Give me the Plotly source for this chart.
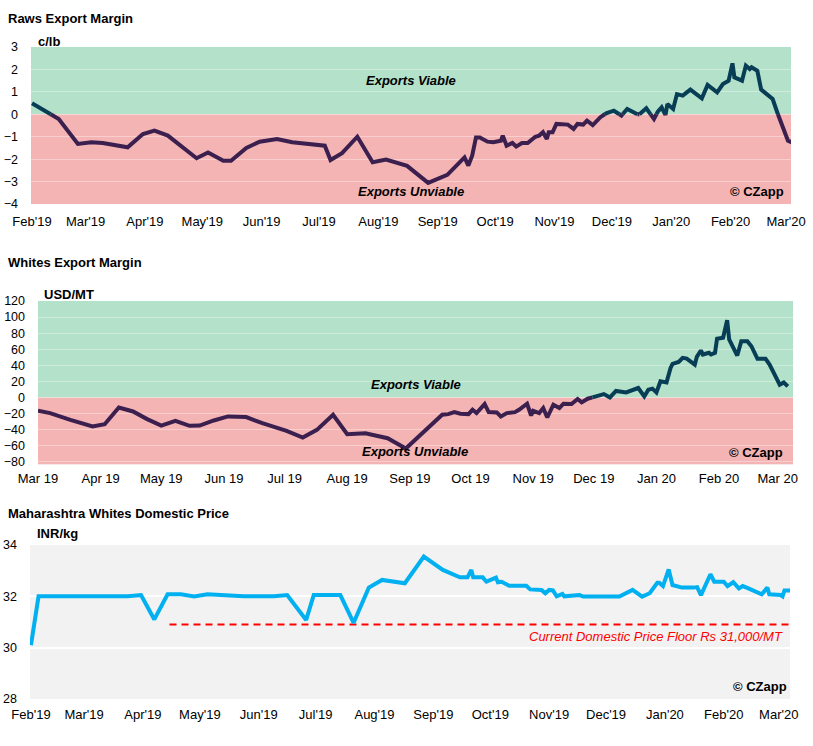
import pandas as pd
import plotly.graph_objects as go

# ---------------- DATA ----------------
raws_base = "2019-02-01"
raws_days = [0, 14, 24, 31, 37, 50, 58, 64, 71, 86, 92, 100, 104, 112, 119, 128, 136, 148, 153, 156,
             162, 170, 178, 185, 196, 207, 217, 226, 228, 230, 232, 234, 238, 241, 245, 246, 248, 251,
             253, 256, 259, 263, 265, 267, 269, 270, 272, 274, 280, 283, 285, 288, 290, 293, 297, 300,
             304, 308, 311, 317, 321, 325, 327, 329, 331, 332, 335, 337, 340, 344, 350, 352, 353, 358,
             361, 364, 366, 367, 371, 373, 375, 376, 379, 381, 385, 387, 390, 393, 395, 397]
raws_vals = [0.49, -0.21, -1.32, -1.25, -1.28, -1.47, -0.88, -0.73, -0.95, -1.96, -1.70, -2.07, -2.07,
             -1.50, -1.22, -1.10, -1.25, -1.35, -1.40, -2.04, -1.73, -1.00, -2.14, -2.02, -2.30, -3.06,
             -2.70, -1.92, -2.29, -1.85, -1.03, -1.03, -1.22, -1.25, -1.18, -0.95, -1.40, -1.28, -1.44,
             -1.28, -1.28, -1.00, -0.95, -0.80, -1.10, -0.80, -0.80, -0.43, -0.46, -0.65, -0.43, -0.46,
             -0.28, -0.48, -0.13, 0.04, 0.16, -0.06, 0.24, -0.03, 0.27, -0.21, 0.12, 0.31, -0.03, 0.46,
             0.24, 0.90, 0.83, 1.10, 0.71, 1.13, 1.31, 0.98, 1.35, 1.50, 2.27, 1.65, 1.50, 2.17, 2.02,
             2.10, 1.94, 1.10, 0.78, 0.68, -0.06, -0.66, -1.18, -1.25]

whites_base = "2019-03-01"
whites_days = [0, 6, 16, 27, 33, 40, 47, 54, 61, 68, 75, 80, 87, 94, 103, 111, 123, 131, 138, 146, 153,
               162, 173, 182, 200, 203, 206, 209, 213, 215, 217, 221, 223, 227, 229, 232, 236, 238, 242,
               244, 245, 248, 250, 252, 255, 258, 260, 264, 267, 269, 272, 278, 280, 283, 286, 291, 297,
               300, 302, 304, 306, 308, 311, 313, 314, 317, 319, 321, 325, 326, 328, 329, 332, 333, 335,
               336, 339, 341, 342, 346, 348, 351, 353, 356, 360, 362, 365, 367, 369, 371]
whites_vals = [-16.6, -19.5, -27.9, -36.2, -33.3, -12.5, -17.5, -27.0, -35.0, -29.1, -35.4, -35.0, -28.7,
               -23.7, -24.5, -32.0, -41.6, -50.0, -40.4, -21.6, -45.8, -44.6, -50.8, -63.5, -21.6, -20.8,
               -18.3, -20.4, -20.8, -15.4, -19.5, -8.3, -18.3, -18.7, -23.7, -19.5, -18.3, -15.4, -7.9,
               -22.5, -16.6, -19.5, -13.3, -25.0, -9.1, -13.3, -7.9, -8.3, -2.0, -6.2, -1.6, 2.5, 4.2,
               0.0, 8.0, 6.2, 11.7, 1.2, 9.6, 10.9, 6.2, 20.0, 18.7, 36.7, 41.7, 44.2, 49.2, 48.4, 40.9,
               50.5, 58.4, 53.4, 55.5, 53.4, 55.5, 73.0, 74.2, 96.2, 72.1, 52.1, 70.0, 70.0, 63.7, 48.0,
               48.0, 40.9, 24.2, 15.9, 18.7, 13.7]

dom_base = "2019-02-01"
dom_days = [0, 4, 51, 58, 65, 72, 79, 86, 93, 100, 112, 128, 135, 145, 149, 163, 170, 178, 185, 197,
            207, 217, 226, 230, 232, 233, 238, 240, 245, 246, 248, 252, 261, 263, 269, 271, 273, 275,
            277, 280, 281, 289, 291, 310, 317, 322, 326, 330, 331, 333, 336, 338, 340, 343, 349, 351,
            353, 355, 358, 360, 365, 367, 370, 373, 375, 378, 385, 388, 389, 395, 396, 397, 400]
dom_vals = [30.10, 32.00, 32.00, 32.05, 31.10, 32.08, 32.08, 31.99, 32.08, 32.05, 32.00, 32.00, 32.05,
            31.08, 32.05, 32.05, 30.97, 32.34, 32.64, 32.51, 33.55, 33.03, 32.74, 32.74, 33.03, 32.74,
            32.74, 32.57, 32.73, 32.55, 32.57, 32.41, 32.41, 32.27, 32.25, 32.12, 32.25, 32.23, 32.00,
            32.09, 32.00, 32.05, 31.99, 31.99, 32.25, 31.99, 32.12, 32.53, 32.53, 32.40, 33.05, 32.44,
            32.41, 32.34, 32.34, 32.36, 32.05, 32.38, 32.86, 32.57, 32.57, 32.40, 32.55, 32.31, 32.40,
            32.31, 32.08, 32.34, 32.08, 32.05, 32.00, 32.23, 32.23]

floor_dates = ["2019-04-15", "2020-03-07"]
floor_vals = [30.9, 30.9]

titles = ["Raws Export Margin", "Whites Export Margin", "Maharashtra Whites Domestic Price"]
units = ["c/lb", "USD/MT", "INR/kg"]

# ---------------- STYLE ----------------
W, H = 813, 746
FONT = "Liberation Sans, Arial, sans-serif"
GREEN = "#b4e1ca"
RED = "#f4b4b4"
PURPLE = "#3b1f4e"
TEAL = "#073e56"
BLUE = "#00b0f0"


def to_dates(base, days):
    return list(pd.Timestamp(base) + pd.to_timedelta(days, unit="D"))


def split_sign(dates, vals):
    """Split a series into above/below zero parts, adding zero crossings."""
    xs, ys = [dates[0]], [vals[0]]
    for i in range(1, len(vals)):
        y0, y1 = vals[i - 1], vals[i]
        if (y0 > 0 and y1 < 0) or (y0 < 0 and y1 > 0):
            f = (0 - y0) / (y1 - y0)
            xs.append(dates[i - 1] + (dates[i] - dates[i - 1]) * f)
            ys.append(0.0)
        xs.append(dates[i])
        ys.append(vals[i])
    pos = [y if y >= 0 else None for y in ys]
    neg = [y if y <= 0 else None for y in ys]
    return xs, pos, neg


def px_x(p):
    return p / W


def px_y(p):
    return 1 - p / H


fig = go.Figure()

# chart 1
d1 = to_dates(raws_base, raws_days)
x1, p1, n1 = split_sign(d1, raws_vals)
fig.add_trace(go.Scatter(x=x1, y=n1, mode="lines", line=dict(color=PURPLE, width=4),
                         xaxis="x", yaxis="y", hoverinfo="skip", showlegend=False))
fig.add_trace(go.Scatter(x=x1, y=p1, mode="lines", line=dict(color=TEAL, width=4),
                         xaxis="x", yaxis="y", hoverinfo="skip", showlegend=False))
# chart 2
d2 = to_dates(whites_base, whites_days)
x2, p2, n2 = split_sign(d2, whites_vals)
fig.add_trace(go.Scatter(x=x2, y=n2, mode="lines", line=dict(color=PURPLE, width=4),
                         xaxis="x2", yaxis="y2", hoverinfo="skip", showlegend=False))
fig.add_trace(go.Scatter(x=x2, y=p2, mode="lines", line=dict(color=TEAL, width=4),
                         xaxis="x2", yaxis="y2", hoverinfo="skip", showlegend=False))
# chart 3
fig.add_trace(go.Scatter(x=pd.to_datetime(floor_dates), y=floor_vals, mode="lines",
                         line=dict(color="#ff0000", width=2, dash="7px,5px"),
                         xaxis="x3", yaxis="y3", hoverinfo="skip", showlegend=False))
fig.add_trace(go.Scatter(x=to_dates(dom_base, dom_days), y=dom_vals, mode="lines",
                         line=dict(color=BLUE, width=4),
                         xaxis="x3", yaxis="y3", hoverinfo="skip", showlegend=False))

# plot areas in pixels: (left, right, top, bottom)
areas = [(31, 791, 47, 204), (38, 793, 301, 464.5), (30, 790, 545, 699)]

xtickfont = dict(family=FONT, size=13, color="#000000")
ytickfont = dict(family=FONT, size=12.5, color="#000000")
common_x = dict(type="date", dtick="M1", showgrid=False, zeroline=False, showline=False,
                ticks="", tickfont=xtickfont, fixedrange=True, automargin=False)
common_y = dict(zeroline=False, showline=False, ticks="", tickfont=ytickfont,
                ticklabelstandoff=12, fixedrange=True, automargin=False)

fig.update_layout(
    template="none",
    xaxis=dict(common_x, domain=[px_x(areas[0][0]), px_x(areas[0][1])], anchor="y",
               range=["2019-01-31 12:00", "2020-03-03 14:00"], tick0="2019-02-01",
               tickformat="%b'%y", ticklabelstandoff=8),
    yaxis=dict(common_y, domain=[px_y(areas[0][3]), px_y(areas[0][2])], anchor="x",
               range=[-4, 3], dtick=1, showgrid=True, gridcolor="rgba(255,255,255,0.35)",
               gridwidth=1),
    xaxis2=dict(common_x, domain=[px_x(areas[1][0]), px_x(areas[1][1])], anchor="y2",
                range=["2019-03-01", "2020-03-08 14:00"], tick0="2019-03-01",
                tickformat="%b %y", ticklabelstandoff=4),
    yaxis2=dict(common_y, domain=[px_y(areas[1][3]), px_y(areas[1][2])], anchor="x2",
                range=[-83.5, 120], tick0=0, dtick=20, showgrid=True,
                gridcolor="rgba(255,255,255,0.35)", gridwidth=1),
    xaxis3=dict(common_x, domain=[px_x(areas[2][0]), px_x(areas[2][1])], anchor="y3",
                range=["2019-01-31 12:00", "2020-03-06 22:00"], tick0="2019-02-01",
                tickformat="%b'%y", ticklabelstandoff=6),
    yaxis3=dict(common_y, domain=[px_y(areas[2][3]), px_y(areas[2][2])], anchor="x3",
                range=[28, 34], dtick=2, showgrid=True, gridcolor="#ffffff", gridwidth=1.5),
    plot_bgcolor="#f2f2f2",
    paper_bgcolor="#ffffff",
    width=W, height=H,
    margin=dict(l=0, r=0, t=0, b=0, pad=0),
    showlegend=False,
)

# bands
shapes = []
for xr, yr, lo, hi in [("x domain", "y", -4, 3), ("x2 domain", "y2", -83.5, 120)]:
    shapes.append(dict(type="rect", xref=xr, yref=yr, x0=0, x1=1, y0=0, y1=hi,
                       fillcolor=GREEN, line=dict(width=0), layer="below"))
    shapes.append(dict(type="rect", xref=xr, yref=yr, x0=0, x1=1, y0=lo, y1=0,
                       fillcolor=RED, line=dict(width=0), layer="below"))
fig.update_layout(shapes=shapes)

ann = []


def text(s, x, y, xanchor="left", size=13, color="#000000"):
    ann.append(dict(text=s, x=px_x(x), y=px_y(y), xref="paper", yref="paper",
                    xanchor=xanchor, yanchor="middle", showarrow=False,
                    font=dict(family=FONT, size=size, color=color)))


# titles and units
text("<b>" + titles[0] + "</b>", 6, 18)
text("<b>" + titles[1] + "</b>", 6, 262)
text("<b>" + titles[2] + "</b>", 6, 513)
text("<b>" + units[0] + "</b>", 36, 41)
text("<b>" + units[1] + "</b>", 42, 294)
text("<b>" + units[2] + "</b>", 35, 533)

# band labels
text("<b><i>Exports Viable</i></b>", 411, 81, "center")
text("<b><i>Exports Unviable</i></b>", 411, 192, "center")
text("<b><i>Exports Viable</i></b>", 416, 384, "center")
text("<b><i>Exports Unviable</i></b>", 415, 452, "center")

# copyright
text("<b>© CZapp</b>", 786, 192, "right")
text("<b>© CZapp</b>", 785, 453, "right")
text("<b>© CZapp</b>", 789, 686, "right")

# floor label
text("<i>Current Domestic Price Floor Rs 31,000/MT</i>", 785, 636, "right", 13, "#ff0000")

fig.update_layout(annotations=ann)

fig.write_html("out.html", post_script="document.body.style.margin='0';",
               config={"displayModeBar": False})
